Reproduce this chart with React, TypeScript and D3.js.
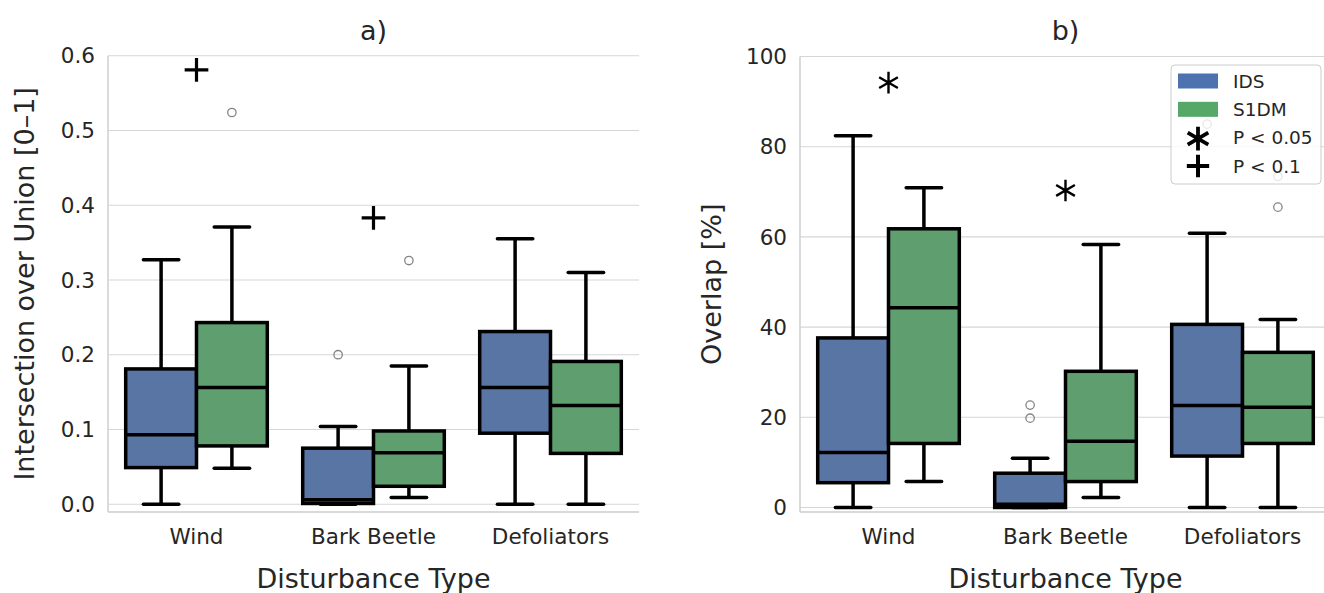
import * as d3 from 'd3'

const categories = ['Wind', 'Bark Beetle', 'Defoliators']
const groups = ['IDS', 'S1DM']

// box stats per category: [whiskerLow, q1, median, q3, whiskerHigh]
const iouIDS = [
  [0, 0.049, 0.093, 0.181, 0.327],
  [0, 0.001, 0.006, 0.075, 0.104],
  [0, 0.095, 0.156, 0.231, 0.355],
]
const iouS1DM = [
  [0.048, 0.078, 0.156, 0.243, 0.371],
  [0.009, 0.024, 0.069, 0.098, 0.185],
  [0, 0.068, 0.132, 0.191, 0.31],
]
const iouOutliers = [
  { cat: 'Wind', group: 'S1DM', value: 0.524 },
  { cat: 'Bark Beetle', group: 'IDS', value: 0.2 },
  { cat: 'Bark Beetle', group: 'S1DM', value: 0.326 },
]
const iouSignif = [
  { cat: 'Wind', mark: 'plus', value: 0.581 },
  { cat: 'Bark Beetle', mark: 'plus', value: 0.383 },
]
const iouTicks = [0, 0.1, 0.2, 0.3, 0.4, 0.5, 0.6]

const overlapIDS = [
  [0, 5.5, 12.2, 37.6, 82.4],
  [0, 0, 0.7, 7.6, 10.9],
  [0, 11.4, 22.6, 40.6, 60.8],
]
const overlapS1DM = [
  [5.75, 14.2, 44.3, 61.8, 70.9],
  [2.2, 5.75, 14.7, 30.2, 58.3],
  [0, 14.2, 22.2, 34.4, 41.7],
]
const overlapOutliers = [
  { cat: 'Bark Beetle', group: 'IDS', value: 22.7 },
  { cat: 'Bark Beetle', group: 'IDS', value: 19.8 },
  { cat: 'Defoliators', group: 'IDS', value: 85.0 },
  { cat: 'Defoliators', group: 'S1DM', value: 73.4 },
  { cat: 'Defoliators', group: 'S1DM', value: 66.6 },
]
const overlapSignif = [
  { cat: 'Wind', mark: 'star', value: 94.2 },
  { cat: 'Bark Beetle', mark: 'star', value: 70.3 },
]
const overlapTicks = [0, 20, 40, 60, 80, 100]

const legendItems = [
  { label: 'IDS', kind: 'patch', color: '#4c72b0' },
  { label: 'S1DM', kind: 'patch', color: '#55a868' },
  { label: 'P < 0.05', kind: 'star' },
  { label: 'P < 0.1', kind: 'plus' },
]

const boxFill: Record<string, string> = { IDS: '#5975a4', S1DM: '#5f9e6e' }
const textColor = '#262626'
const font = 'DejaVu Sans, sans-serif'

const starPath = d3.symbol(d3.symbolAsterisk, 330)()
const starPathBig = d3.symbol(d3.symbolAsterisk, 400)()
const plusPath = d3.symbol(d3.symbolPlus, 185)()
const plusPathLegend = d3.symbol(d3.symbolPlus, 165)()

type Outlier = { cat: string; group: string; value: number }
type Signif = { cat: string; mark: string; value: number }

type PanelProps = {
  title: string
  yLabel: string
  left: number
  right: number
  top: number
  bottom: number
  domain: [number, number]
  ticks: number[]
  fmt: (v: number) => string
  ids: number[][]
  s1dm: number[][]
  outliers: Outlier[]
  signif: Signif[]
  yLabelX: number
  legend?: boolean
}

function Panel(p: PanelProps) {
  const x = d3.scaleBand().domain(categories).range([p.left, p.right]).padding(0)
  const hue = d3
    .scaleBand()
    .domain(groups)
    .range([0, x.bandwidth() * 0.8])
  const y = d3.scaleLinear().domain(p.domain).range([p.bottom, p.top])
  const bw = hue.bandwidth()
  const boxX = (cat: string, g: string) => (x(cat) as number) + x.bandwidth() * 0.1 + (hue(g) as number)
  const midX = (cat: string) => (x(cat) as number) + x.bandwidth() / 2
  const cx = (p.left + p.right) / 2

  const boxes: { cat: string; g: string; s: number[] }[] = []
  categories.forEach((c, i) => {
    boxes.push({ cat: c, g: 'IDS', s: p.ids[i] })
    boxes.push({ cat: c, g: 'S1DM', s: p.s1dm[i] })
  })

  return (
    <g fontFamily={font}>
      {/* grid */}
      {p.ticks.map((t) => (
        <line key={t} x1={p.left} x2={p.right} y1={y(t)} y2={y(t)} stroke="#d6d6d6" strokeWidth={1.1} />
      ))}
      {/* spines */}
      <line x1={p.left} x2={p.left} y1={p.top} y2={p.bottom} stroke="#cccccc" strokeWidth={1.4} />
      <line x1={p.left} x2={p.right} y1={p.bottom} y2={p.bottom} stroke="#cccccc" strokeWidth={1.4} />
      {/* y ticks */}
      {p.ticks.map((t) => (
        <text key={t} x={p.left - 13} y={y(t)} dy="0.36em" textAnchor="end" fontSize={21.5} fill={textColor}>
          {p.fmt(t)}
        </text>
      ))}
      {/* x ticks */}
      {categories.map((c) => (
        <text key={c} x={midX(c)} y={544} textAnchor="middle" fontSize={21.5} fill={textColor}>
          {c}
        </text>
      ))}
      <text x={cx} y={588} textAnchor="middle" fontSize={27} fill={textColor}>
        Disturbance Type
      </text>
      <text
        transform={`translate(${p.yLabelX},${(p.top + p.bottom) / 2}) rotate(-90)`}
        textAnchor="middle"
        dy="0.35em"
        fontSize={27}
        fill={textColor}
      >
        {p.yLabel}
      </text>
      <text x={cx} y={40} textAnchor="middle" fontSize={27} fill={textColor}>
        {p.title}
      </text>
      {/* boxes */}
      {boxes.map(({ cat, g, s }) => {
        const x0 = boxX(cat, g)
        const xm = x0 + bw / 2
        const [lo, q1, med, q3, hi] = s
        return (
          <g key={cat + g} stroke="#000" strokeWidth={3.5}>
            <line x1={xm} x2={xm} y1={y(q3)} y2={y(hi)} />
            <line x1={xm} x2={xm} y1={y(q1)} y2={y(lo)} />
            <line x1={xm - bw / 4} x2={xm + bw / 4} y1={y(hi)} y2={y(hi)} strokeLinecap="round" />
            <line x1={xm - bw / 4} x2={xm + bw / 4} y1={y(lo)} y2={y(lo)} strokeLinecap="round" />
            <rect x={x0} y={y(q3)} width={bw} height={y(q1) - y(q3)} fill={boxFill[g]} />
            <line x1={x0} x2={x0 + bw} y1={y(med)} y2={y(med)} />
          </g>
        )
      })}
      {/* outliers */}
      {p.outliers.map((o, i) => (
        <circle
          key={i}
          cx={boxX(o.cat, o.group) + bw / 2}
          cy={y(o.value)}
          r={4.2}
          fill="none"
          stroke="#858585"
          strokeWidth={1.3}
        />
      ))}
      {/* significance */}
      {p.signif.map((s, i) => (
        <path
          key={i}
          transform={`translate(${midX(s.cat)},${y(s.value)})`}
          d={(s.mark === 'star' ? starPath : plusPath) as string}
          fill="none"
          stroke="#000"
          strokeWidth={s.mark === 'star' ? 2.4 : 3.2}
        />
      ))}
      {p.legend && <Legend />}
    </g>
  )
}

function Legend() {
  const lx = 1171
  const ly = 65
  const rowY = d3.scalePoint().domain(legendItems.map((d) => d.label)).range([81, 166])
  return (
    <g>
      <rect x={lx} y={ly} width={150} height={119} rx={4} fill="#fff" fillOpacity={0.8} stroke="#cccccc" strokeWidth={1} />
      {legendItems.map((d) => {
        const yy = rowY(d.label) as number
        return (
          <g key={d.label}>
            {d.kind === 'patch' && <rect x={1178} y={yy - 7.5} width={40} height={15} fill={d.color} />}
            {d.kind === 'star' && (
              <path transform={`translate(1198,${yy + 1})`} d={starPathBig as string} fill="none" stroke="#000" strokeWidth={3.8} />
            )}
            {d.kind === 'plus' && (
              <path transform={`translate(1198,${yy})`} d={plusPathLegend as string} fill="none" stroke="#000" strokeWidth={4} />
            )}
            <text x={1233} y={yy} dy="0.36em" fontSize={18.5} fill={textColor}>
              {d.label}
            </text>
          </g>
        )
      })}
    </g>
  )
}

export default function App() {
  return (
    <svg
      width={1324}
      height={593}
      viewBox="0 0 1324 593"
      style={{ position: 'absolute', left: 0, top: 0, background: '#fff' }}
    >
      <rect width={1324} height={593} fill="#fff" />
      <Panel
        title="a)"
        yLabel="Intersection over Union [0–1]"
        left={108}
        right={639}
        top={55.7}
        bottom={512}
        domain={[-0.0104, 0.6]}
        ticks={iouTicks}
        fmt={d3.format('.1f')}
        ids={iouIDS}
        s1dm={iouS1DM}
        outliers={iouOutliers}
        signif={iouSignif}
        yLabelX={25}
      />
      <Panel
        title="b)"
        yLabel="Overlap [%]"
        left={800}
        right={1331}
        top={56.5}
        bottom={512}
        domain={[-1.0, 100]}
        ticks={overlapTicks}
        fmt={d3.format('d')}
        ids={overlapIDS}
        s1dm={overlapS1DM}
        outliers={overlapOutliers}
        signif={overlapSignif}
        yLabelX={712}
        legend
      />
    </svg>
  )
}
